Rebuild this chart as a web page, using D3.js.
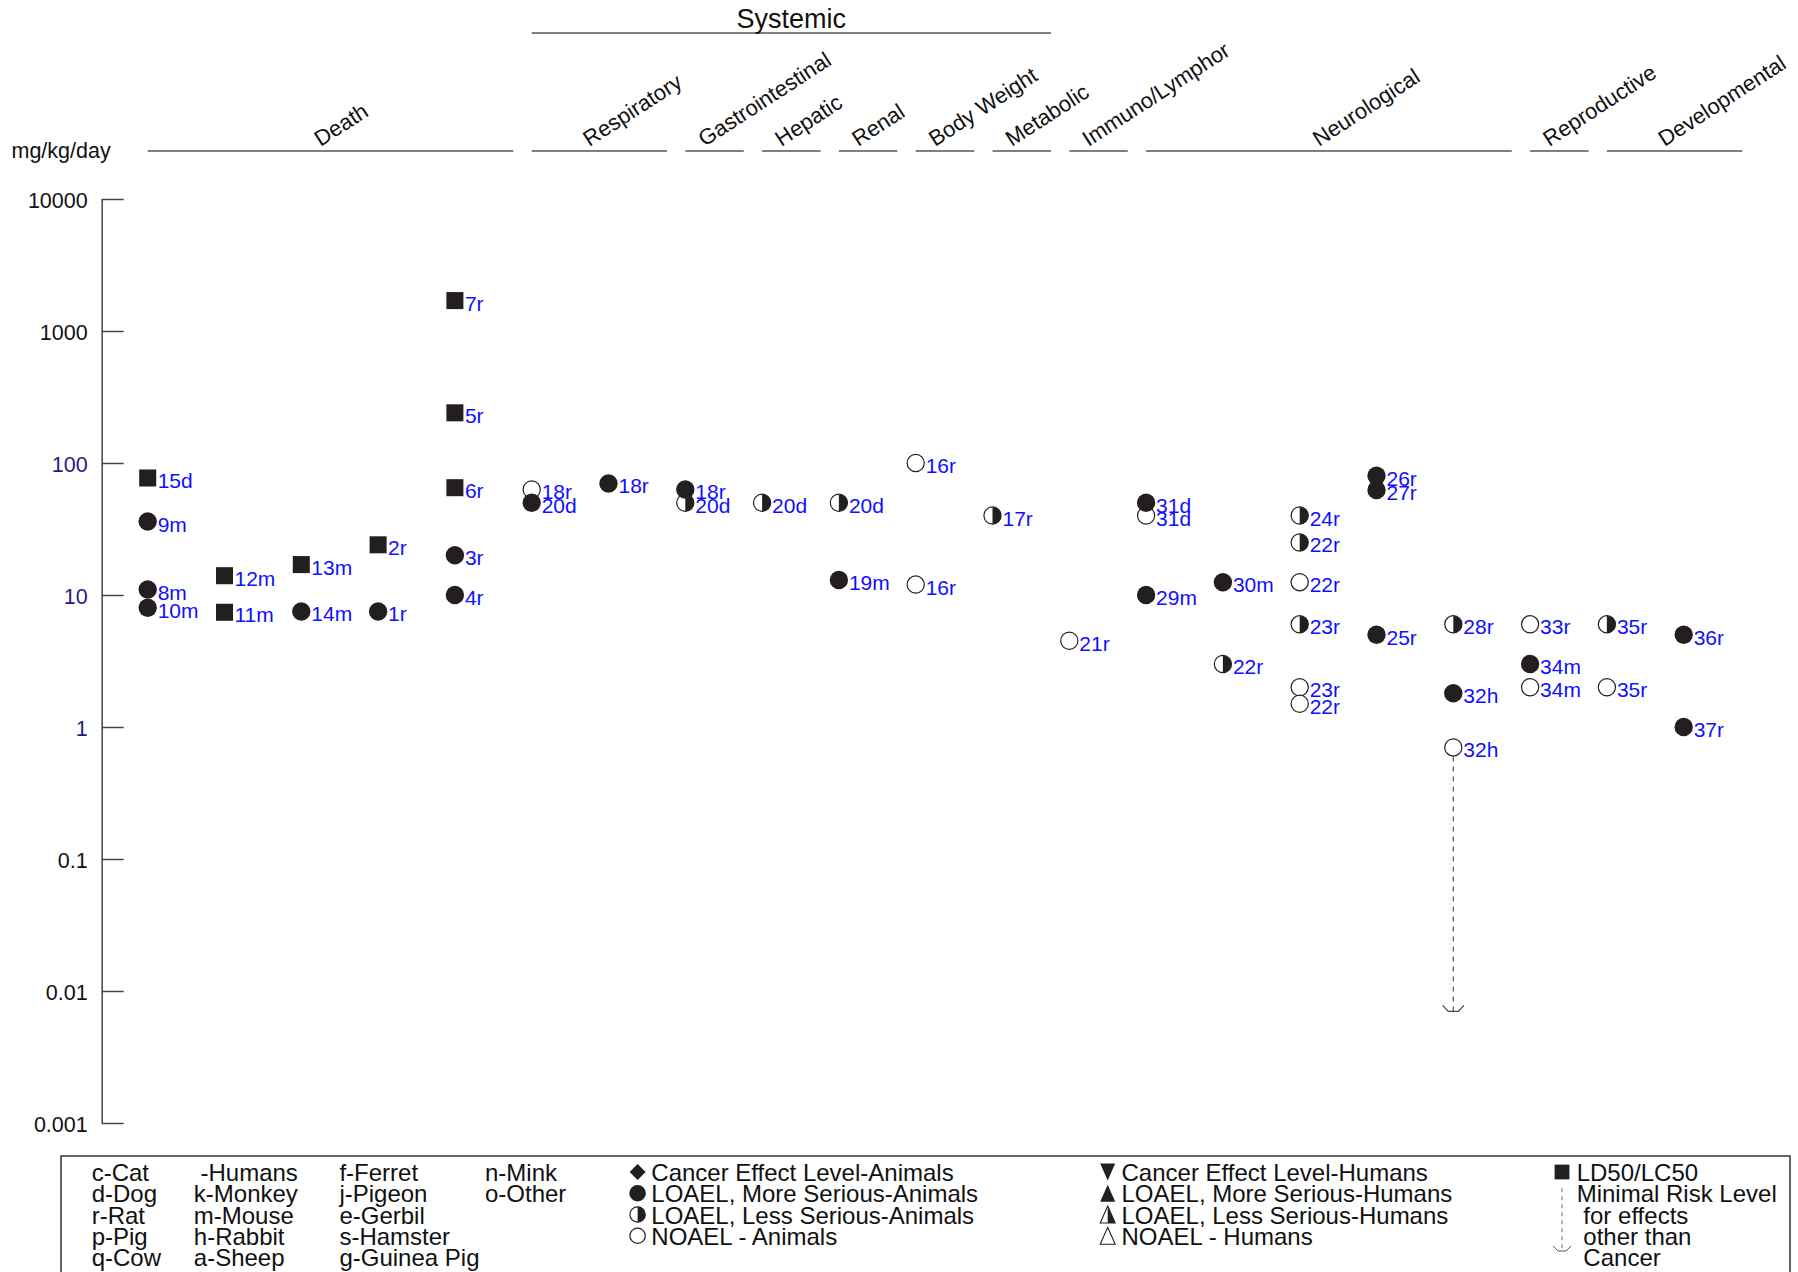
<!DOCTYPE html>
<html>
<head>
<meta charset="utf-8">
<title>Levels of Significant Exposure - Oral</title>
<script src="https://cdn.jsdelivr.net/npm/d3@7"></script>
<style>
  body { margin: 0; background: #fff; }
  svg { display: block; font-family: "Liberation Sans", Arial, Helvetica, sans-serif; }
</style>
</head>
<body>
<div id="vis"></div>
<script>
// endpoint groups across the top and the columns each one covers
const endpoints = ["Death", "Respiratory", "Gastrointestinal", "Hepatic", "Renal", "Body Weight",
  "Metabolic", "Immuno/Lymphor", "Neurological", "Reproductive", "Developmental"];
const endpointFirst = [0, 5, 7, 8, 9, 10, 11, 12, 13, 18, 19];
const endpointLast = [4, 6, 7, 8, 9, 10, 11, 12, 17, 18, 20];
const systemicFirst = 5;
const systemicLast = 11;

// one entry per study point: column, dose (mg/kg/day), effect type, key label
const pointColumn = [0, 0, 0, 0, 1, 1, 2, 2, 3, 3, 4, 4, 4, 4, 4,
  5, 5, 6, 7, 7, 8, 9, 9, 10, 10, 11, 12,
  13, 13, 13, 14, 14, 15, 15, 15, 15, 15, 15, 16, 16, 16, 17, 17, 17,
  18, 18, 18, 19, 19, 20, 20];
const pointDose = [77, 36, 11, 8, 14, 7.4, 17, 7.5, 24, 7.5, 1700, 240, 65, 20, 10,
  63, 50, 70, 63, 50, 50, 50, 13, 100, 12, 40, 4.5,
  50, 40, 10, 12.5, 3, 40, 25, 12.5, 6, 2, 1.5, 80, 62.5, 5, 6, 1.8, 0.7,
  6, 3, 2, 6, 2, 5, 1];
const pointEffect = ["ld50", "serious", "serious", "serious", "ld50", "ld50", "ld50", "serious", "ld50", "serious",
  "ld50", "ld50", "ld50", "serious", "serious",
  "noael", "serious", "serious", "serious", "less", "less", "less", "serious", "noael", "noael", "less", "noael",
  "serious", "noael", "serious", "serious", "less", "less", "less", "noael", "less", "noael", "noael",
  "serious", "serious", "serious", "less", "serious", "noael",
  "noael", "serious", "noael", "less", "noael", "serious", "serious"];
const pointLabel = ["15d", "9m", "8m", "10m", "12m", "11m", "13m", "14m", "2r", "1r", "7r", "5r", "6r", "3r", "4r",
  "18r", "20d", "18r", "18r", "20d", "20d", "20d", "19m", "16r", "16r", "17r", "21r",
  "31d", "31d", "29m", "30m", "22r", "24r", "22r", "22r", "23r", "23r", "22r", "26r", "27r", "25r",
  "28r", "32h", "32h", "33r", "34m", "34m", "35r", "35r", "36r", "37r"];

// minimal risk level arrow
const mrlColumn = 17;
const mrlFrom = 0.7;
const mrlDose = 0.007;

// y axis
const tickValues = [10000, 1000, 100, 10, 1, 0.1, 0.01, 0.001];
const tickLabels = ["10000", "1000", "100", "10", "1", "0.1", "0.01", "0.001"];

// key at the bottom
const speciesColumns = [
  ["c-Cat", "d-Dog", "r-Rat", "p-Pig", "q-Cow"],
  [" -Humans", "k-Monkey", "m-Mouse", "h-Rabbit", "a-Sheep"],
  ["f-Ferret", "j-Pigeon", "e-Gerbil", "s-Hamster", "g-Guinea Pig"],
  ["n-Mink", "o-Other"]
];
const animalKey = ["Cancer Effect Level-Animals", "LOAEL, More Serious-Animals", "LOAEL, Less Serious-Animals", "NOAEL - Animals"];
const humanKey = ["Cancer Effect Level-Humans", "LOAEL, More Serious-Humans", "LOAEL, Less Serious-Humans", "NOAEL - Humans"];
const otherKey = ["LD50/LC50", "Minimal Risk Level", " for effects", " other than", " Cancer"];

const width = 1798;
const height = 1272;
const ink = "#231f20";
const labelBlue = "#1010ff";

const svg = d3.select("#vis")
  .append("svg")
  .attr("width", width)
  .attr("height", height);

const x = d3.scaleLinear().domain([0, 20]).range([147.7, 1683.7]);
const y = d3.scaleLog().domain([0.001, 10000]).range([1123, 199]);
const spanTail = 58.5; // header underline runs past the last column

// axis, ticks point right and labels sit on the left
const axis = d3.axisLeft(y)
  .tickValues(tickValues)
  .tickFormat((d, i) => tickLabels[i])
  .tickSizeInner(-22)
  .tickSizeOuter(0)
  .tickPadding(14);

const axisG = svg.append("g")
  .attr("transform", "translate(101.7,0)")
  .call(axis);
axisG.select(".domain").attr("stroke", "#444").attr("stroke-width", 1.5);
axisG.selectAll(".tick line").attr("stroke", "#444").attr("stroke-width", 1.5);
axisG.selectAll(".tick text")
  .attr("font-size", 21.5)
  .attr("font-family", null)
  .attr("dy", "0.4em")
  .attr("fill", d => (d >= 1 && d <= 100) ? "#1e1e84" : "#111");

svg.append("text")
  .attr("x", 11.5)
  .attr("y", 158)
  .attr("font-size", 21.5)
  .attr("fill", "#111")
  .text("mg/kg/day");

// header: Systemic bracket
svg.append("line")
  .attr("x1", x(systemicFirst)).attr("x2", x(systemicLast) + spanTail)
  .attr("y1", 33).attr("y2", 33)
  .attr("stroke", "#808080").attr("stroke-width", 2);
svg.append("text")
  .attr("x", (x(systemicFirst) + x(systemicLast) + spanTail) / 2)
  .attr("y", 28)
  .attr("text-anchor", "middle")
  .attr("font-size", 27)
  .attr("fill", "#111")
  .text("Systemic");

// header: each endpoint gets an underline and a slanted name
const heads = svg.append("g")
  .selectAll("g")
  .data(endpoints)
  .enter()
  .append("g");

heads.append("line")
  .attr("x1", (d, i) => x(endpointFirst[i]))
  .attr("x2", (d, i) => x(endpointLast[i]) + spanTail)
  .attr("y1", 151).attr("y2", 151)
  .attr("stroke", "#808080").attr("stroke-width", 2);

heads.append("text")
  .attr("transform", (d, i) => {
    const cx = (x(endpointFirst[i]) + x(endpointLast[i]) + spanTail) / 2 - 10;
    return `translate(${cx},147) rotate(-33)`;
  })
  .attr("font-size", 22)
  .attr("fill", "#111")
  .text(d => d);

// marker drawing
function drawMarker(g, effect, cx, cy, r) {
  if (effect === "ld50") {
    const s = r * 1.85;
    g.append("rect")
      .attr("x", cx - s / 2).attr("y", cy - s / 2)
      .attr("width", s).attr("height", s)
      .attr("fill", ink);
  } else if (effect === "serious") {
    g.append("circle").attr("cx", cx).attr("cy", cy).attr("r", r).attr("fill", ink);
  } else if (effect === "less") {
    g.append("circle").attr("cx", cx).attr("cy", cy).attr("r", r - 0.6)
      .attr("fill", "#fff").attr("stroke", ink).attr("stroke-width", 1.2);
    g.append("path")
      .attr("d", `M${cx},${cy - r + 0.6} A${r - 0.6},${r - 0.6} 0 0 1 ${cx},${cy + r - 0.6} Z`)
      .attr("fill", ink);
  } else if (effect === "noael") {
    g.append("circle").attr("cx", cx).attr("cy", cy).attr("r", r - 0.6)
      .attr("fill", "#fff").attr("stroke", ink).attr("stroke-width", 1.2);
  }
}

// minimal risk level: dashed drop from the NOAEL to the MRL
const mrlX = x(mrlColumn);
svg.append("line")
  .attr("x1", mrlX).attr("x2", mrlX)
  .attr("y1", y(mrlFrom) + 9).attr("y2", y(mrlDose))
  .attr("stroke", "#555").attr("stroke-width", 1.2)
  .attr("stroke-dasharray", "5,5");
svg.append("path")
  .attr("d", `M${mrlX - 10.7},${y(mrlDose) - 6} L${mrlX - 5},${y(mrlDose)} L${mrlX + 5},${y(mrlDose)} L${mrlX + 10.7},${y(mrlDose) - 6}`)
  .attr("fill", "none").attr("stroke", "#444").attr("stroke-width", 1.2);

// points, open ones first so filled ones sit on top
const effectOrder = { noael: 0, less: 1, serious: 2, ld50: 3 };
const order = d3.range(pointDose.length)
  .sort((a, b) => effectOrder[pointEffect[a]] - effectOrder[pointEffect[b]] || a - b);

const marks = svg.append("g");
order.forEach(i => {
  drawMarker(marks, pointEffect[i], x(pointColumn[i]), y(pointDose[i]), 9.2);
});

svg.append("g")
  .selectAll("text")
  .data(pointLabel)
  .enter()
  .append("text")
  .attr("x", (d, i) => x(pointColumn[i]) + 10)
  .attr("y", (d, i) => y(pointDose[i]) + 10)
  .attr("font-size", 21)
  .attr("fill", labelBlue)
  .text(d => d);

// key box
const key = svg.append("g");
key.append("rect")
  .attr("x", 61).attr("y", 1156)
  .attr("width", 1729).attr("height", 200)
  .attr("fill", "none").attr("stroke", "#333").attr("stroke-width", 1.5);

const keyBase = 1181;
const keyStep = 21.25;
const keySize = 24;
const speciesX = [91.7, 193.8, 339.4, 485];

speciesColumns.forEach((col, c) => {
  key.selectAll(null)
    .data(col)
    .enter()
    .append("text")
    .attr("x", speciesX[c])
    .attr("y", (d, i) => keyBase + i * keyStep)
    .attr("font-size", keySize)
    .attr("fill", "#111")
    .style("white-space", "pre")
    .text(d => d);
});

function keyText(list, tx) {
  key.selectAll(null)
    .data(list)
    .enter()
    .append("text")
    .attr("x", tx)
    .attr("y", (d, i) => keyBase + i * keyStep)
    .attr("font-size", keySize)
    .attr("fill", "#111")
    .style("white-space", "pre")
    .text(d => d);
}

// animal symbols
const ax = 637.6;
const symY = i => keyBase + i * keyStep - 9;
key.append("path")
  .attr("d", `M${ax},${symY(0) - 8} L${ax + 8},${symY(0)} L${ax},${symY(0) + 8} L${ax - 8},${symY(0)} Z`)
  .attr("fill", ink);
drawMarker(key, "serious", ax, symY(1), 8.3);
drawMarker(key, "less", ax, symY(2), 8.3);
drawMarker(key, "noael", ax, symY(3), 8.3);
keyText(animalKey, 651.3);

// human symbols
const hx = 1107.7;
const tw = 7.5;
const th = 8.5;
key.append("path")
  .attr("d", `M${hx - tw},${symY(0) - th} L${hx + tw},${symY(0) - th} L${hx},${symY(0) + th} Z`)
  .attr("fill", ink);
key.append("path")
  .attr("d", `M${hx},${symY(1) - th} L${hx + tw},${symY(1) + th} L${hx - tw},${symY(1) + th} Z`)
  .attr("fill", ink);
key.append("path")
  .attr("d", `M${hx},${symY(2) - th} L${hx + tw},${symY(2) + th} L${hx - tw},${symY(2) + th} Z`)
  .attr("fill", "#fff").attr("stroke", ink).attr("stroke-width", 1.1);
key.append("path")
  .attr("d", `M${hx},${symY(2) - th} L${hx + tw},${symY(2) + th} L${hx},${symY(2) + th} Z`)
  .attr("fill", ink);
key.append("path")
  .attr("d", `M${hx},${symY(3) - th} L${hx + tw},${symY(3) + th} L${hx - tw},${symY(3) + th} Z`)
  .attr("fill", "#fff").attr("stroke", ink).attr("stroke-width", 1.1);
keyText(humanKey, 1121.5);

// ld50 square and MRL arrow
const ox = 1562;
drawMarker(key, "ld50", ox, symY(0), 8);
key.append("line")
  .attr("x1", ox).attr("x2", ox)
  .attr("y1", symY(1) - 5).attr("y2", symY(4) - 6)
  .attr("stroke", "#666").attr("stroke-width", 1)
  .attr("stroke-dasharray", "4,4");
key.append("path")
  .attr("d", `M${ox - 9},${symY(4) - 11} L${ox - 4},${symY(4) - 6} L${ox + 4},${symY(4) - 6} L${ox + 9},${symY(4) - 11}`)
  .attr("fill", "none").attr("stroke", "#555").attr("stroke-width", 1);
keyText(otherKey, 1576.7);
</script>
</body>
</html>
